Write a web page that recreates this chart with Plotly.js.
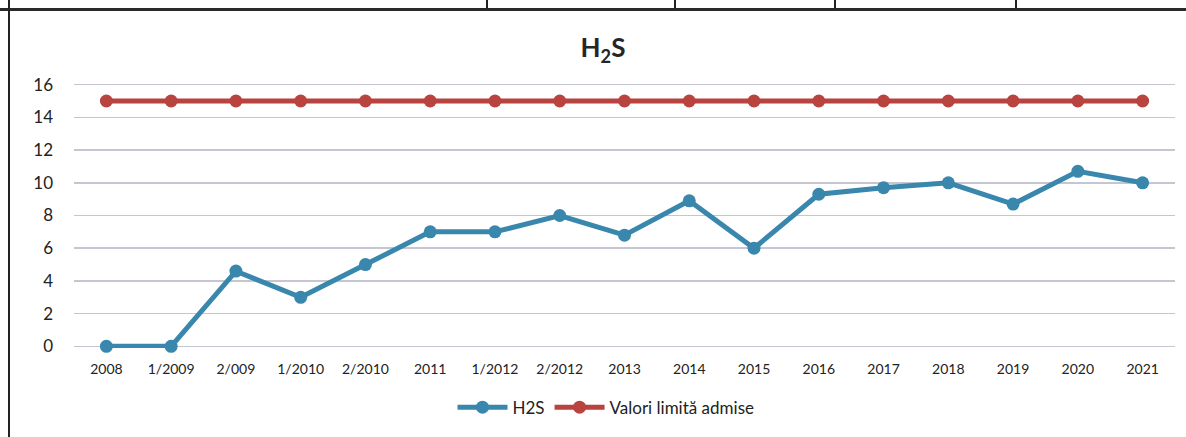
<!DOCTYPE html>
<html>
<head>
<meta charset="utf-8">
<script src="https://cdn.plot.ly/plotly-3.0.1.min.js"></script>
<style>
  html, body { margin: 0; padding: 0; background: #ffffff; }
  #chart { width: 1186px; height: 437px; }
</style>
</head>
<body>
<div id="chart"></div>
<script>
// ---- data ----
const categories = ["2008", "1/2009", "2/009", "1/2010", "2/2010", "2011", "1/2012", "2/2012",
  "2013", "2014", "2015", "2016", "2017", "2018", "2019", "2020", "2021"];
const h2sValues = [0, 0, 4.6, 3, 5, 7, 7, 8, 6.8, 8.9, 6, 9.3, 9.7, 10, 8.7, 10.7, 10];
const limitValues = [15, 15, 15, 15, 15, 15, 15, 15, 15, 15, 15, 15, 15, 15, 15, 15, 15];
const seriesNames = ["H2S", "Valori limită admise"];
const chartTitle = "H<sub>2</sub>S";
const yTicks = [0, 2, 4, 6, 8, 10, 12, 14, 16];

// ---- layout geometry ----
const W = 1186, H = 437;
const M = { l: 74, r: 11, t: 83.4, b: 89.4, autoexpand: false };
const pw = W - M.l - M.r, ph = H - M.t - M.b;
const px = x => (x - M.l) / pw;          // pixel x -> paper x
const py = y => (H - M.b - y) / ph;      // pixel y -> paper y

const FONT = "Lato, 'Open Sans', 'DejaVu Sans', sans-serif";
const BLUE = "#3a87ad";
const RED = "#b8433f";

const traces = [
  {
    x: categories, y: h2sValues, name: seriesNames[0], type: "scatter", mode: "lines+markers",
    line: { color: BLUE, width: 5 }, marker: { color: BLUE, size: 13 }, cliponaxis: false
  },
  {
    x: categories, y: limitValues, name: seriesNames[1], type: "scatter", mode: "lines+markers",
    line: { color: RED, width: 5 }, marker: { color: RED, size: 13 }, cliponaxis: false
  }
];

const frameLine = { color: "#222222", width: 2 };
const shapes = [
  { type: "line", xref: "paper", yref: "paper", x0: px(0), x1: px(W), y0: py(10), y1: py(10), line: { color: "#2a2a2a", width: 3 } },
  { type: "line", xref: "paper", yref: "paper", x0: px(9), x1: px(9), y0: py(0), y1: py(H), line: frameLine },
  ...[487, 675, 835, 1016].map(xx => ({
    type: "line", xref: "paper", yref: "paper", x0: px(xx), x1: px(xx), y0: py(0), y1: py(9), line: frameLine
  }))
];

const layout = {
  width: W, height: H, autosize: false,
  margin: M,
  paper_bgcolor: "#ffffff", plot_bgcolor: "#ffffff",
  font: { family: FONT, color: "#222222" },
  title: {
    text: chartTitle, x: px(603), xanchor: "center", xref: "paper",
    y: 1 - 48 / H, yanchor: "middle", yref: "container",
    font: { family: FONT, size: 26, color: "#262626", weight: "bold" }
  },
  xaxis: {
    type: "category", range: [-0.5, 16.5], showgrid: false, zeroline: false, showline: false,
    ticks: "", tickfont: { size: 14, color: "#222222" }, ticklabelstandoff: 11, tickangle: 0,
    automargin: false, fixedrange: true
  },
  yaxis: {
    range: [-0.1, 16.1], tickvals: yTicks, showgrid: true, gridcolor: "#c6c6d3", gridwidth: 1.6,
    zeroline: false, showline: false, ticks: "", tickfont: { size: 17, color: "#222222" },
    ticklabelstandoff: 20, automargin: false, fixedrange: true
  },
  legend: {
    orientation: "h", x: px(606), xref: "paper", xanchor: "center",
    y: py(407), yref: "paper", yanchor: "middle", font: { size: 17, color: "#222222" },
    itemwidth: 50, tracegroupgap: 0, bgcolor: "rgba(0,0,0,0)"
  },
  shapes: shapes,
  showlegend: true
};

Plotly.newPlot("chart", traces, layout, { displayModeBar: false, staticPlot: true });
</script>
</body>
</html>
